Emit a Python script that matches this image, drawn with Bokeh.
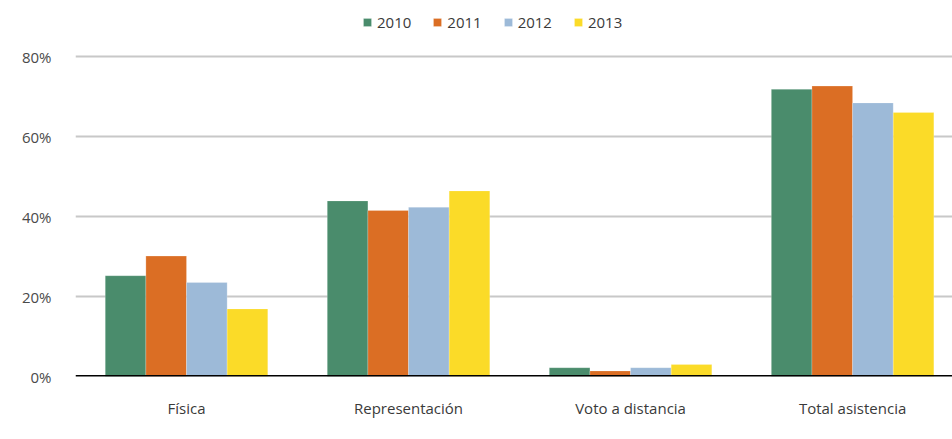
from bokeh.plotting import figure
from bokeh.models import ColumnDataSource, Range1d, FixedTicker, NumeralTickFormatter, Legend, LegendItem
from bokeh.transform import dodge
from bokeh.embed import file_html
from bokeh.resources import INLINE

categories = ["Física", "Representación", "Voto a distancia", "Total asistencia"]
years = ["2010", "2011", "2012", "2013"]
v2010 = [25.2, 43.9, 2.2, 71.8]
v2011 = [30.1, 41.5, 1.4, 72.6]
v2012 = [23.5, 42.3, 2.2, 68.4]
v2013 = [16.9, 46.4, 3.0, 66.0]
colors = ["#4a8c6c", "#db6e24", "#9dbad8", "#fbdb28"]
y_ticks = [0, 20, 40, 60, 80]

xs = [i + 0.5 for i in range(len(categories))]
src = ColumnDataSource(dict(x=xs, v2010=[v / 100 for v in v2010], v2011=[v / 100 for v in v2011],
                            v2012=[v / 100 for v in v2012], v2013=[v / 100 for v in v2013]))

p = figure(width=952, height=430, output_backend="svg", toolbar_location=None,
           x_range=Range1d(0, 3.95), y_range=Range1d(0, 0.915),
           min_border_left=75, min_border_right=0, min_border_top=10, min_border_bottom=54)
p.outline_line_color = None
p.background_fill_color = "white"

bw = 0.183
offsets = [-1.5 * bw, -0.5 * bw, 0.5 * bw, 1.5 * bw]
items = []
for yr, col, off in zip(years, colors, offsets):
    r = p.vbar(x=dodge("x", off, range=p.x_range), top="v" + yr, width=bw, source=src,
               fill_color=col, line_color="white", line_alpha=0.35, line_width=0.6)
    items.append(LegendItem(label=yr, renderers=[r]))

# zero line
p.hspan(y=[0], line_color="black", line_width=3)

p.xaxis.ticker = FixedTicker(ticks=xs)
p.xaxis.major_label_overrides = {x: c for x, c in zip(xs, categories)}
p.xaxis.axis_line_color = None
p.xaxis.major_tick_line_color = None
p.xaxis.minor_tick_line_color = None
p.xaxis.major_label_standoff = 15
p.xaxis.major_label_text_font = "Open Sans"
p.xaxis.major_label_text_font_size = "15px"
p.xaxis.major_label_text_color = "#3a3a3a"

p.yaxis.ticker = FixedTicker(ticks=[t / 100 for t in y_ticks])
p.yaxis.formatter = NumeralTickFormatter(format="0%")
p.yaxis.axis_line_color = None
p.yaxis.major_tick_line_color = None
p.yaxis.minor_tick_line_color = None
p.yaxis.major_label_standoff = 18
p.yaxis.major_label_text_font = "Open Sans"
p.yaxis.major_label_text_font_size = "15px"
p.yaxis.major_label_text_color = "#4a4a4a"

p.xgrid.grid_line_color = None
p.ygrid.grid_line_color = "#c8c8c8"
p.ygrid.grid_line_width = 2

legend = Legend(items=items, orientation="horizontal", location=(287, 344),
                glyph_width=10, glyph_height=10, label_standoff=5, spacing=21,
                label_text_font="Open Sans", label_text_font_size="15px",
                label_text_color="#3a3a3a", border_line_color=None,
                background_fill_alpha=0, padding=0, margin=0)
p.add_layout(legend, "center")

open("out.html", "w").write(file_html(p, INLINE))
